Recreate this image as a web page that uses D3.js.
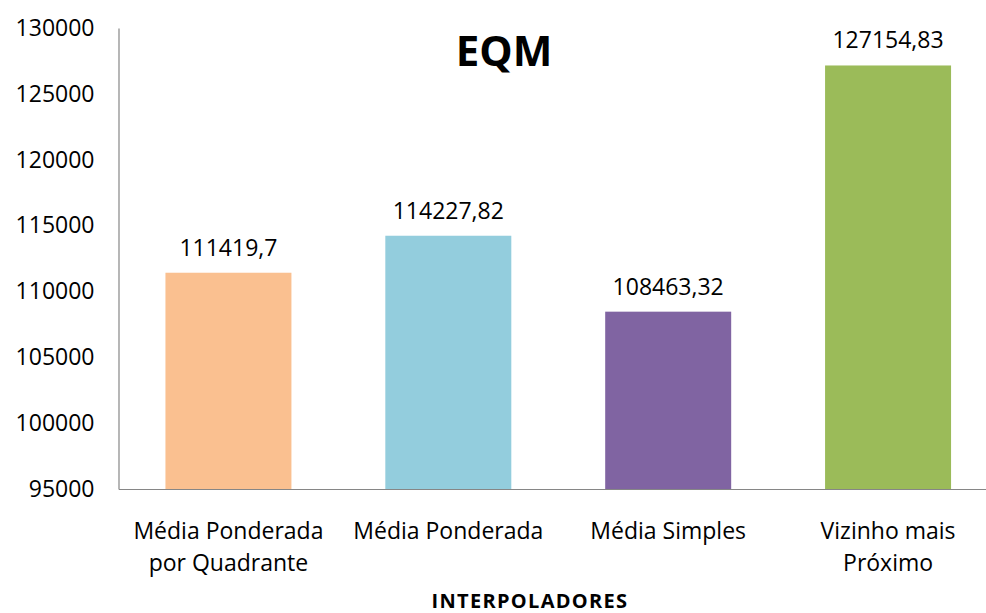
<!DOCTYPE html>
<html><head><meta charset="utf-8">
<script src="https://cdn.jsdelivr.net/npm/d3@7"></script>
<style>body{margin:0;background:#fff}svg{display:block}text{font-family:"Open Sans",sans-serif;fill:#000}</style>
</head><body><svg id="c" width="986" height="613"></svg>
<script>
const categories = [["Média Ponderada","por Quadrante"],["Média Ponderada"],["Média Simples"],["Vizinho mais","Próximo"]];
const values = [111419.7, 114227.82, 108463.32, 127154.83];
const valueLabels = ["111419,7","114227,82","108463,32","127154,83"];
const colors = ["#FAC090","#93CDDD","#8064A2","#9BBB59"];
const yTicks = [95000,100000,105000,110000,115000,120000,125000,130000];
const title = "EQM";
const xTitle = "INTERPOLADORES";

const svg = d3.select("#c");
const mLeft = 118.5, mTop = 28, mBottom = 489, mRight = 998;
const x = d3.scaleBand().domain(d3.range(values.length)).range([mLeft, mRight]).paddingInner(0.427).paddingOuter(0.2135);
const y = d3.scaleLinear().domain([95000,130000]).range([mBottom, mTop]);

svg.selectAll("rect.bar").data(values).join("rect").attr("class","bar")
  .attr("x",(d,i)=>x(i)).attr("width",x.bandwidth())
  .attr("y",d=>y(d)).attr("height",d=>mBottom-y(d))
  .attr("fill",(d,i)=>colors[i]);

const yAxis = svg.append("g").attr("transform",`translate(${mLeft},0)`)
  .call(d3.axisLeft(y).tickValues(yTicks).tickSize(0).tickPadding(24).tickFormat(d=>String(d)));
yAxis.select(".domain").attr("stroke","#868686").attr("stroke-width",1.2);
yAxis.selectAll("text").style("font-family","'Open Sans',sans-serif").style("font-size","23px").attr("fill","#000");

const xAxis = svg.append("g").attr("transform",`translate(0,${mBottom})`)
  .call(d3.axisBottom(x).tickSize(0).tickFormat(""));
xAxis.select(".domain").attr("stroke","#868686").attr("stroke-width",1.2);
xAxis.selectAll(".tick").each(function(d,i){
  const t = d3.select(this).append("text").attr("text-anchor","middle")
    .style("font-family","'Open Sans',sans-serif").style("font-size","23px").attr("fill","#000");
  categories[i].forEach((line,j)=>t.append("tspan").attr("x",0).attr("y",50+j*32).text(line));
});

svg.selectAll("text.vl").data(values).join("text").attr("class","vl")
  .attr("x",(d,i)=>x(i)+x.bandwidth()/2).attr("y",d=>y(d)-17)
  .attr("text-anchor","middle").style("font-size","23px").text((d,i)=>valueLabels[i]);

svg.append("text").attr("x",504).attr("y",66).attr("text-anchor","middle")
  .style("font-size","42px").style("font-weight","bold").text(title);
svg.append("text").attr("x",530).attr("y",608).attr("text-anchor","middle")
  .style("font-size","20px").style("font-weight","bold").style("letter-spacing","1.3px").text(xTitle);
</script></body></html>
